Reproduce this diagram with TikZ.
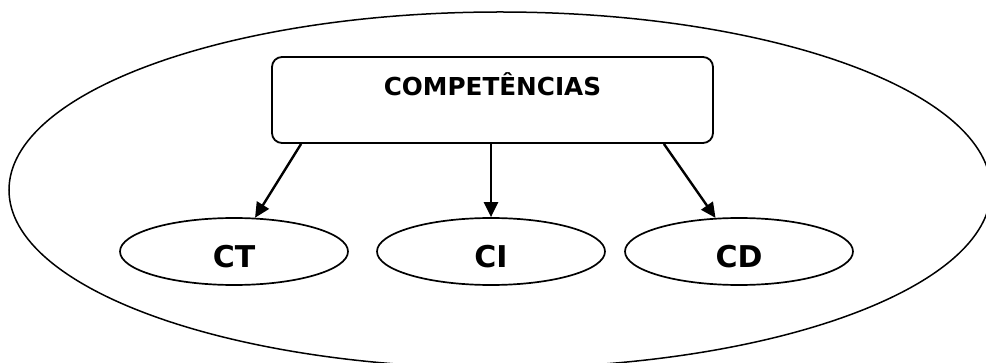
\documentclass[tikz,border=0pt]{standalone}
\usepackage{fontspec}
\setmainfont{DejaVu Sans}
\usetikzlibrary{arrows.meta,shapes.geometric}

\tikzset{
	compbox/.style={draw, line width=1.8pt, rounded corners=10pt, inner sep=0pt, minimum width=441pt, text height=39pt, text depth=47pt, font=\fontsize{24.7pt}{30pt}\selectfont\bfseries},
	compell/.style={draw, ellipse, line width=1.7pt, inner sep=0pt, minimum width=228pt, minimum height=67pt, text height=33pt, text depth=0pt, font=\fontsize{30pt}{36pt}\selectfont\bfseries},
	comparrow/.style={line width=2.4pt, -{Triangle[length=15pt,width=14pt]}}
}

\begin{document}
\begin{tikzpicture}[x=1pt, y=-1pt]
		\useasboundingbox (0, 0) rectangle (986, 363);
		\clip (0, 0) rectangle (986, 363);
		\draw[line width=1.5pt] (500, 190) ellipse [x radius=491pt, y radius=178pt];
		\node[compbox, anchor=base] (comp) at (492.5, 96) {COMPETÊNCIAS};
		\node[compell, anchor=base] (ct) at (234, 268) {CT};
		\node[compell, anchor=base] (ci) at (491, 268) {CI};
		\node[compell, anchor=base] (cd) at (739, 268) {CD};
		\draw[comparrow] ([xshift=30pt]comp.south west) -- (ct);
		\draw[comparrow] (ci.north |- comp.south) -- (ci.north);
		\draw[comparrow] ([xshift=-50pt]comp.south east) -- (cd);
	\end{tikzpicture}
\end{document}
